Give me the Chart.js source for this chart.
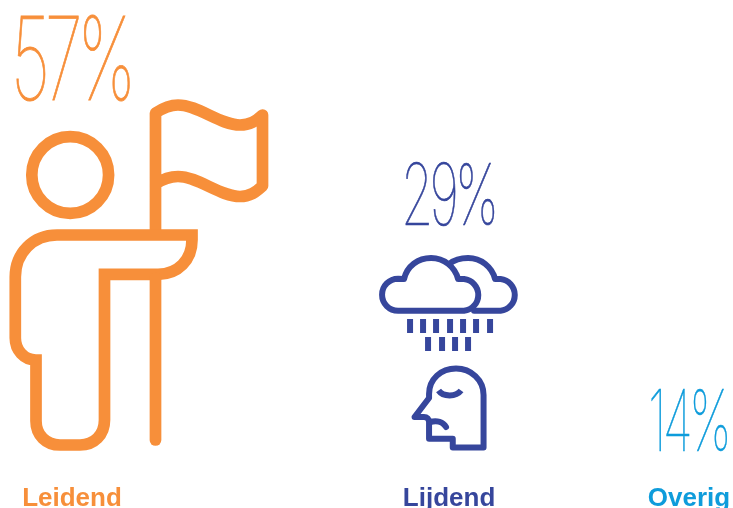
<!DOCTYPE html>
<html>
<head>
<meta charset="utf-8">
<style>
  body { margin: 0; background: #fff; }
  canvas { display: block; }
</style>
<script src="https://cdn.jsdelivr.net/npm/chart.js@4"></script>
</head>
<body>
<canvas id="shares" width="733" height="508"></canvas>
<script>
const categories = ['Leidend', 'Lijdend', 'Overig'];
const shares = [57, 29, 14];
const colors = ['#F78F3A', '#36469C', '#0E9CDB'];

// columns are unevenly spaced, so they sit on a grid of 19 slots
const slots = [0, 11, 18];
const slotLabels = Array(19).fill('');
const slotValues = Array(19).fill(null);
slots.forEach((s, i) => {
  slotLabels[s] = categories[i];
  slotValues[s] = shares[i];
});

// size, fitted width, baseline and extra weight of the big percentage per column
const percentStyle = [
  { size: 115, width: 120, baseline: 99.5, weight: 0.9 },
  { size: 85, width: 94, baseline: 225, weight: 0.7 },
  { size: 85, width: 80, baseline: 451, weight: 0.5 }
];

// pictogram outlines, origin is the column's centre on the baseline (72, 451)
const flagPath = 'M155.5 232 L155.5 113 C163 108,170 105,178 105 C198 105,220 125,240 125 C250 125,256 121,262.5 115 L262.5 186 C256 192,250 196.5,240 196.5 C220 196.5,198 176.5,178 176.5 C170 176.5,163 179,155.5 184';
const bodyPath = 'M192 235 L192 240 C192 260,178 274.3,158 274.3 L104.5 274.3 L104.5 420 C104.5 435,94 445,80 445 L60 445 C46 445,36 435,36 421 L36 360 C24 360,15.3 350,15.3 338 L15.3 277 C15.3 253,33 235,57 235 Z';
const headPath = 'M108.6 175 A38.4 38.4 0 1 1 31.8 175 A38.4 38.4 0 1 1 108.6 175 Z';
const polePath = 'M155.5 278 L155.5 440';

// origin (449, 451)
const sufferIcons = [
  'M398 310.8 A16 16 0 0 1 398 278.8 L404 279 C407 266,418 258,431 258 C444 258,455 267,458 279 L464 279 A16 16 0 0 1 464 310.8 Z',
  'M449 264 C454 260,460 258,468 258 C481 258,492 267,495 279 L500.5 279 A16 16 0 0 1 500.5 310.8 L474 310.8',
  'M429 398 L429 394 C429 379,441 368.5,456 368.5 C471 368.5,483.5 380,483.5 395 L483.5 447.5 L452.7 447.5 L452.7 438.7 L429 438.7 L429 422 C429 419,427 417,424 417 L414.5 417 Z',
  'M430 422 C437 420,443 422,446 427'
];
const eyeLine = 'M438.5 390.5 C443 397,456 397,461 390.5';
const rainRows = [
  { top: 319, xs: [407, 420, 433, 447, 460, 473, 487] },
  { top: 337, xs: [425, 439, 452, 465] }
];

function drawLeader(ctx, dx, dy) {
  ctx.save();
  ctx.translate(dx, dy);
  ctx.strokeStyle = colors[0];
  ctx.lineWidth = 11.7;
  ctx.lineJoin = 'round';
  ctx.stroke(new Path2D(flagPath));
  ctx.stroke(new Path2D(headPath));
  ctx.lineJoin = 'miter';
  ctx.miterLimit = 10;
  ctx.stroke(new Path2D(bodyPath));
  ctx.lineCap = 'round';
  ctx.stroke(new Path2D(polePath));
  ctx.restore();
}

function drawSufferer(ctx, dx, dy) {
  ctx.save();
  ctx.translate(dx, dy);
  ctx.strokeStyle = colors[1];
  ctx.fillStyle = colors[1];
  ctx.lineWidth = 6;
  ctx.lineJoin = 'round';
  ctx.lineCap = 'round';
  sufferIcons.forEach(d => ctx.stroke(new Path2D(d)));
  ctx.lineCap = 'butt';
  ctx.stroke(new Path2D(eyeLine));
  rainRows.forEach(r => r.xs.forEach(x => ctx.fillRect(x, r.top, 6, 14)));
  ctx.restore();
}

const pictograms = {
  id: 'pictograms',
  afterDatasetsDraw(chart) {
    const ctx = chart.ctx;
    const bars = chart.getDatasetMeta(0).data;
    const lead = bars[slots[0]];
    const suffer = bars[slots[1]];
    drawLeader(ctx, lead.x - 72, lead.base - 451);
    drawSufferer(ctx, suffer.x - 449, suffer.base - 451);

    // big thin percentages, squeezed to a condensed width
    slots.forEach((s, i) => {
      const st = percentStyle[i];
      const text = shares[i] + '%';
      ctx.save();
      ctx.font = '100 ' + st.size + 'px Inter';
      ctx.letterSpacing = (-0.075 * st.size) + 'px';
      const sx = st.width / ctx.measureText(text).width;
      ctx.translate(bars[s].x - 1, st.baseline);
      ctx.scale(sx, 1);
      ctx.textAlign = 'center';
      ctx.textBaseline = 'alphabetic';
      ctx.fillStyle = colors[i];
      ctx.strokeStyle = colors[i];
      ctx.lineWidth = st.weight;
      ctx.fillText(text, 0, 0);
      ctx.strokeText(text, 0, 0);
      ctx.restore();
    });
  }
};

new Chart(document.getElementById('shares'), {
  type: 'bar',
  data: {
    labels: slotLabels,
    datasets: [{
      data: slotValues,
      backgroundColor: 'transparent'
    }]
  },
  options: {
    responsive: false,
    animation: false,
    layout: { padding: { left: 54.86, right: 26.86, top: 0, bottom: 0 } },
    plugins: { legend: { display: false }, tooltip: { enabled: false } },
    scales: {
      x: {
        grid: { display: false },
        border: { display: false },
        afterFit(scale) {
          scale.paddingLeft = 0;
          scale.paddingRight = 0;
          scale.height = 57;
        },
        ticks: {
          autoSkip: false,
          maxRotation: 0,
          padding: 24.5,
          font: { family: 'Liberation Sans', size: 26, weight: 'bold' },
          color: ctx => colors[slots.indexOf(ctx.index)] || '#000'
        }
      },
      y: { display: false, min: 0, max: 75 }
    }
  },
  plugins: [pictograms]
});
</script>
</body>
</html>
